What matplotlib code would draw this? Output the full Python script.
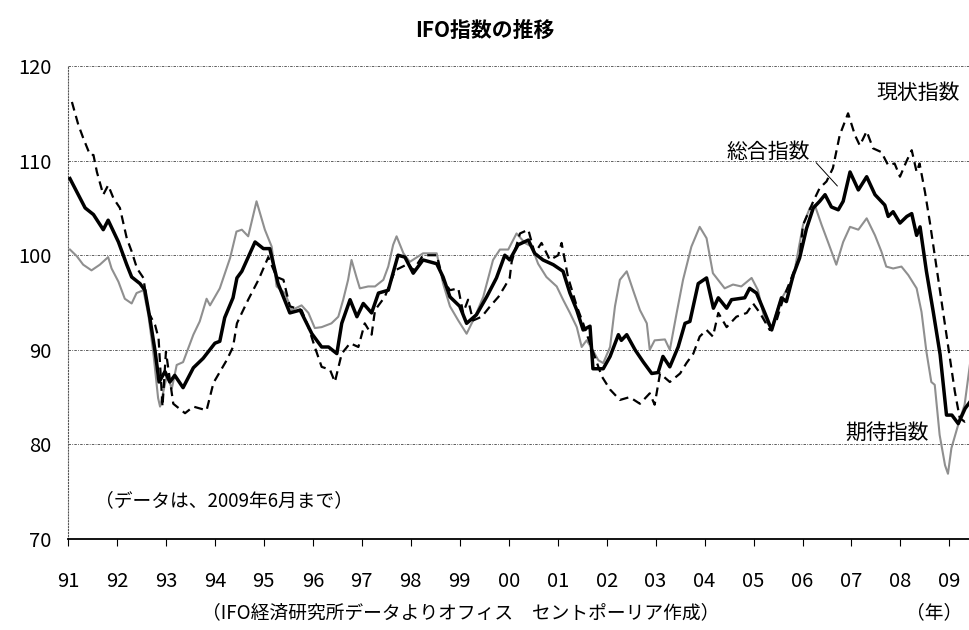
import matplotlib
matplotlib.use("Agg")
import matplotlib.pyplot as plt

plt.rcParams['font.family'] = ['Noto Sans CJK JP', 'DejaVu Sans']

# 総合指数 (composite), decimal years
t_total = [1991.04, 1991.35, 1991.52, 1991.72, 1991.82, 1992.03, 1992.20, 1992.30, 1992.47, 1992.57,
           1992.67, 1992.78, 1992.86, 1992.98, 1993.08, 1993.18, 1993.35, 1993.56, 1993.76, 1994.00,
           1994.10, 1994.20, 1994.37, 1994.45, 1994.55, 1994.82, 1994.99, 1995.12, 1995.29, 1995.53,
           1995.74, 1995.98, 1996.18, 1996.32, 1996.49, 1996.59, 1996.76, 1996.90, 1997.03, 1997.20,
           1997.34, 1997.54, 1997.74, 1997.88, 1998.05, 1998.25, 1998.53, 1998.66, 1998.80, 1999.00,
           1999.14, 1999.34, 1999.55, 1999.75, 1999.92, 2000.02, 2000.19, 2000.40, 2000.53, 2000.70,
           2000.91, 2001.11, 2001.25, 2001.39, 2001.52, 2001.66, 2001.72, 2001.93, 2002.07, 2002.24,
           2002.30, 2002.41, 2002.58, 2002.75, 2002.92, 2003.05, 2003.15, 2003.29, 2003.46, 2003.60,
           2003.70, 2003.87, 2004.04, 2004.18, 2004.28, 2004.45, 2004.55, 2004.82, 2004.92, 2005.06,
           2005.23, 2005.37, 2005.57, 2005.67, 2005.81, 2005.94, 2006.08, 2006.22, 2006.35, 2006.46,
           2006.59, 2006.73, 2006.83, 2006.97, 2007.14, 2007.31, 2007.48, 2007.68, 2007.75, 2007.85,
           2007.99, 2008.13, 2008.23, 2008.33, 2008.40, 2008.53, 2008.67, 2008.81, 2008.94, 2009.05,
           2009.18, 2009.32, 2009.42]
total = [108.1, 105.0, 104.3, 102.7, 103.7, 101.4, 99.0, 97.7, 97.0, 96.3,
         93.4, 89.8, 86.6, 87.7, 86.6, 87.3, 86.0, 88.1, 89.1, 90.7,
         90.9, 93.4, 95.5, 97.6, 98.3, 101.4, 100.7, 100.7, 97.0, 93.9,
         94.2, 91.7, 90.3, 90.3, 89.6, 92.8, 95.3, 93.5, 94.9, 93.9,
         96.0, 96.3, 100.0, 99.8, 98.1, 99.5, 99.1, 97.7, 95.6, 94.6,
         92.8, 93.7, 95.6, 97.6, 100.0, 99.5, 101.1, 101.6, 100.2, 99.5,
         99.0, 98.3, 96.0, 94.2, 92.1, 92.5, 88.0, 88.0, 89.3, 91.6,
         91.0, 91.6, 90.0, 88.7, 87.5, 87.6, 89.3, 88.2, 90.3, 92.8,
         93.0, 97.0, 97.6, 94.4, 95.5, 94.4, 95.3, 95.5, 96.5, 96.0,
         93.9, 92.1, 95.5, 95.1, 97.9, 99.7, 102.8, 105.0, 105.7, 106.4,
         105.1, 104.8, 105.7, 108.8, 106.9, 108.3, 106.4, 105.3, 104.1, 104.6,
         103.4, 104.1, 104.4, 102.1, 103.0, 98.3, 94.0, 89.5, 83.1, 83.1,
         82.2, 83.8, 84.5]

# 現状指数 (current situation)
t_current = [1991.08, 1991.21, 1991.31, 1991.45, 1991.52, 1991.59, 1991.72, 1991.82, 1991.93, 1992.06,
             1992.20, 1992.30, 1992.41, 1992.54, 1992.64, 1992.78, 1992.85, 1992.93, 1993.00, 1993.15,
             1993.39, 1993.56, 1993.83, 1993.97, 1994.24, 1994.37, 1994.45, 1994.55, 1994.68, 1994.89,
             1995.09, 1995.26, 1995.40, 1995.53, 1995.77, 1995.91, 1996.04, 1996.18, 1996.35, 1996.45,
             1996.59, 1996.76, 1996.93, 1997.06, 1997.20, 1997.27, 1997.47, 1997.68, 1997.95, 1998.05,
             1998.25, 1998.53, 1998.66, 1998.80, 1998.97, 1999.07, 1999.17, 1999.27, 1999.45, 1999.62,
             1999.79, 1999.92, 2000.02, 2000.06, 2000.23, 2000.40, 2000.53, 2000.67, 2000.84, 2001.01,
             2001.08, 2001.21, 2001.39, 2001.52, 2001.59, 2001.90, 2002.07, 2002.27, 2002.47, 2002.68,
             2002.88, 2002.98, 2003.09, 2003.29, 2003.50, 2003.63, 2003.77, 2003.90, 2004.04, 2004.17,
             2004.28, 2004.45, 2004.65, 2004.86, 2004.99, 2005.13, 2005.33, 2005.47, 2005.60, 2005.81,
             2005.94, 2006.01, 2006.22, 2006.35, 2006.49, 2006.62, 2006.76, 2006.93, 2007.07, 2007.17,
             2007.31, 2007.44, 2007.61, 2007.75, 2007.88, 2007.99, 2008.12, 2008.23, 2008.33, 2008.39,
             2008.50, 2008.60, 2008.70, 2008.80, 2008.91, 2009.01, 2009.11, 2009.21, 2009.31, 2009.42]
current = [116.2, 113.8, 112.4, 110.6, 110.6, 108.8, 106.4, 107.4, 106.0, 105.0,
           101.8, 100.4, 98.6, 97.6, 94.0, 92.6, 91.2, 84.0, 89.8, 84.3,
           83.3, 84.0, 83.6, 86.5, 88.9, 90.3, 92.8, 93.9, 95.3, 97.4,
           99.8, 97.7, 97.4, 94.6, 94.2, 92.4, 90.3, 88.2, 87.9, 86.6,
           89.6, 90.7, 90.3, 92.8, 91.6, 94.2, 95.6, 98.4, 99.1, 98.4,
           100.0, 100.0, 97.4, 96.3, 96.5, 93.9, 95.3, 93.1, 93.5, 94.6,
           95.6, 96.7, 97.6, 99.3, 102.3, 102.7, 100.2, 101.3, 99.5, 100.0,
           101.3, 97.7, 94.6, 92.8, 91.7, 87.2, 85.8, 84.7, 85.0, 84.3,
           85.4, 84.2, 87.5, 86.6, 87.5, 88.6, 89.6, 91.4, 92.1, 91.4,
           93.9, 92.4, 93.5, 93.9, 94.9, 93.9, 92.1, 93.1, 95.3, 98.1,
           99.8, 103.2, 105.7, 107.1, 107.8, 109.2, 112.7, 115.0, 112.7, 111.6,
           113.1, 111.3, 110.9, 109.5, 109.7, 108.3, 109.9, 111.1, 108.8, 109.7,
           106.7, 103.5, 100.0, 96.5, 92.6, 89.1, 85.6, 82.8, 82.4, 82.8]

# 期待指数 (expectations)
t_expect = [1991.04, 1991.18, 1991.31, 1991.48, 1991.65, 1991.82, 1991.89, 1992.03, 1992.16, 1992.30,
            1992.40, 1992.54, 1992.64, 1992.74, 1992.84, 1992.88, 1993.02, 1993.12, 1993.22, 1993.35,
            1993.56, 1993.69, 1993.83, 1993.90, 1994.10, 1994.31, 1994.44, 1994.55, 1994.68, 1994.85,
            1995.02, 1995.16, 1995.26, 1995.43, 1995.57, 1995.77, 1995.91, 1996.04, 1996.18, 1996.38,
            1996.52, 1996.62, 1996.72, 1996.79, 1996.89, 1996.96, 1997.13, 1997.27, 1997.44, 1997.54,
            1997.64, 1997.71, 1997.85, 1997.98, 1998.25, 1998.53, 1998.66, 1998.80, 1998.97, 1999.14,
            1999.31, 1999.48, 1999.68, 1999.82, 1999.99, 2000.16, 2000.33, 2000.47, 2000.60, 2000.77,
            2000.98, 2001.11, 2001.25, 2001.39, 2001.49, 2001.59, 2001.69, 2001.83, 2001.93, 2002.07,
            2002.17, 2002.27, 2002.41, 2002.54, 2002.68, 2002.82, 2002.88, 2002.98, 2003.19, 2003.29,
            2003.43, 2003.56, 2003.73, 2003.90, 2004.04, 2004.17, 2004.41, 2004.58, 2004.75, 2004.96,
            2005.09, 2005.23, 2005.37, 2005.54, 2005.81, 2006.01, 2006.15, 2006.25, 2006.39, 2006.52,
            2006.69, 2006.83, 2006.97, 2007.14, 2007.31, 2007.48, 2007.61, 2007.71, 2007.85, 2008.02,
            2008.16, 2008.33, 2008.43, 2008.53, 2008.63, 2008.70, 2008.80, 2008.91, 2008.97, 2009.04,
            2009.18, 2009.31, 2009.42]
expect = [100.6, 99.9, 99.0, 98.4, 99.0, 99.8, 98.6, 97.2, 95.4, 94.9,
          96.0, 96.3, 93.7, 89.8, 84.9, 84.0, 87.3, 85.9, 88.4, 88.7,
          91.6, 93.0, 95.4, 94.7, 96.5, 99.7, 102.5, 102.7, 102.0, 105.7,
          102.7, 100.9, 96.7, 96.0, 94.2, 94.7, 93.9, 92.3, 92.4, 92.8,
          93.5, 95.3, 97.4, 99.5, 97.7, 96.5, 96.7, 96.7, 97.4, 98.8,
          101.1, 102.0, 100.2, 99.3, 100.2, 100.2, 97.0, 94.6, 93.1, 91.7,
          93.5, 95.6, 99.5, 100.6, 100.6, 102.3, 101.3, 100.9, 99.1, 97.7,
          96.7, 95.3, 93.9, 92.4, 90.3, 91.0, 90.2, 88.9, 88.6, 90.3,
          94.6, 97.4, 98.3, 96.3, 94.2, 92.8, 90.0, 91.0, 91.1, 90.0,
          93.9, 97.4, 100.9, 103.0, 101.8, 98.1, 96.5, 96.9, 96.7, 97.6,
          96.3, 93.1, 92.3, 95.1, 97.6, 103.2, 105.0, 105.3, 103.2, 101.4,
          99.0, 101.4, 103.0, 102.7, 103.9, 102.1, 100.4, 98.8, 98.6, 98.8,
          97.9, 96.5, 94.0, 89.8, 86.6, 86.3, 81.0, 77.8, 76.9, 79.6,
          82.1, 84.2, 88.5]

years = list(range(1991, 2010))
year_labels = ['91', '92', '93', '94', '95', '96', '97', '98', '99', '00',
               '01', '02', '03', '04', '05', '06', '07', '08', '09']
y_ticks = [70, 80, 90, 100, 110, 120]


fig = plt.figure(figsize=(9.7, 6.3), dpi=100)
ax = fig.add_axes([0.0701, 0.1444, 0.9299, 0.7508])

# gridlines first so the lines sit on top
for v in y_ticks[1:]:
    ax.axhline(v, color='#444444', lw=0.6, ls=(0, (3, 1.5, 1, 1.5)), zorder=1)

ax.plot(t_expect, expect, color='#8f8f8f', lw=1.5, zorder=2)
ax.plot(t_current, current, color='black', lw=1.6, ls=(0, (4, 2.5)), zorder=3)
ax.plot(t_total, total, color='black', lw=2.5, zorder=4)

ax.set_xlim(1991.0, 2009.42)
ax.set_ylim(70, 120)

ax.set_xticks(years)
ax.set_xticklabels(year_labels)
ax.set_yticks(y_ticks)
ax.tick_params(axis='x', direction='out', length=5, width=0.8, pad=18, labelsize=14.5)
ax.tick_params(axis='y', length=0, pad=12, labelsize=14.5)

ax.spines['top'].set_visible(False)
ax.spines['right'].set_visible(False)
ax.spines['left'].set_linestyle(':')
ax.spines['left'].set_color('#555555')
ax.spines['bottom'].set_linewidth(1.3)

# title and notes
fig.text(0.5, 0.952, 'IFO指数の推移', ha='center', va='center', fontsize=15, fontweight='bold')
ax.text(1991.55, 74.0, '（データは、2009年6月まで）', ha='left', va='center', fontsize=13.5)
fig.text(0.475, 0.028, '（IFO経済研究所データよりオフィス　セントポーリア作成）',
         ha='center', va='center', fontsize=13.5)
fig.text(0.963, 0.028, '（年）', ha='center', va='center', fontsize=13.5)

# series labels
ax.text(2008.37, 117.1, '現状指数', ha='center', va='center', fontsize=15)
ax.text(2005.29, 110.9, '総合指数', ha='center', va='center', fontsize=15)
ax.annotate('', xy=(2006.75, 107.1), xytext=(2006.24, 110.0),
            arrowprops=dict(arrowstyle='-', color='black', lw=0.7))
ax.text(2007.73, 81.2, '期待指数', ha='center', va='center', fontsize=15)

fig.savefig('out.png', dpi=100)
